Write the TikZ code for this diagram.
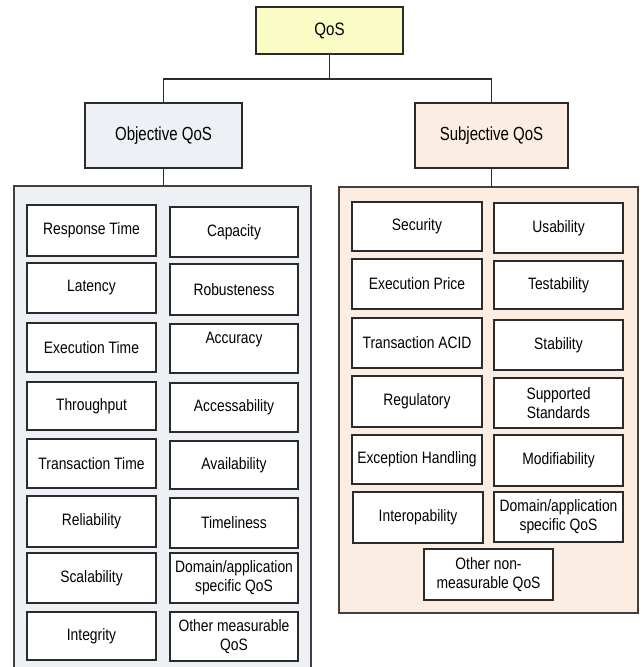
\documentclass[tikz,border=0pt]{standalone}
\usepackage{fontspec}
\setmainfont{Liberation Sans}[FakeStretch=0.84]
\newfontfamily\headfont{Liberation Sans}[FakeStretch=0.79]
\definecolor{qosyellow}{HTML}{FAFCC6}
\definecolor{objblue}{HTML}{EDF0F5}
\definecolor{subjpeach}{HTML}{FCEDE2}
\definecolor{edge}{HTML}{2B2B2B}

% a box given by its corners (x1,y1) and (x2,y2), y counted downwards
\newcommand\qbox[7][]{%
  \node[item,#1,minimum width={#5-#3},minimum height={#6-#4}]
    (#2) at ({(#3+#5)/2},{(#4+#6)/2}) {#7};}

\begin{document}
\begin{tikzpicture}[x=1pt,y=-1pt,
  item/.style={draw=edge,fill=white,line width=1.4pt,inner sep=0pt,outer sep=0pt,
    align=center,font=\fontsize{16.5}{19}\selectfont},
  head/.style={item,line width=1.3pt,font=\headfont\fontsize{19}{22}\selectfont},
  panel/.style={item,line width=1.1pt,draw=edge!90},
  link/.style={draw=edge,line width=1.3pt}]
\useasboundingbox (0,0) rectangle (643,667);
\clip (0,0) rectangle (643,667);

% top level
\qbox[head,fill=qosyellow,font=\fontsize{18}{21}\selectfont]{qos}{256}{7}{403}{54}{QoS}
\qbox[head,fill=objblue]{obj}{85}{103}{242}{168}{Objective QoS}
\qbox[head,fill=subjpeach]{subj}{415}{103}{568}{168}{Subjective QoS}

% panels holding the individual attributes
\qbox[panel,fill=objblue]{objpanel}{14}{186}{311}{680}{}
\qbox[panel,fill=subjpeach]{subjpanel}{339}{187}{638}{613}{}

\draw[link] (qos.south) -- ++(0,25) coordinate (fork)
  (obj.north) |- (fork) -| (subj.north);
\draw[link] (obj.south) -- (obj.south |- objpanel.north);
\draw[link] (subj.south) -- (subj.south |- subjpanel.north);

% objective attributes
\qbox{rt}{27}{205}{156}{256}{Response Time}
\qbox{lat}{27}{263}{156}{313}{Latency}
\qbox{et}{27}{323}{156}{372}{Execution Time}
\qbox{thr}{27}{382}{156}{430}{Throughput}
\qbox{tt}{27}{439}{156}{488}{Transaction Time}
\qbox{rel}{27}{496}{156}{547}{Reliability}
\qbox{sca}{27}{553}{156}{603}{Scalability}
\qbox{int}{27}{612}{156}{660}{Integrity}

\qbox{cap}{170}{207}{298}{257}{Capacity}
\qbox{rob}{170}{264}{298}{315}{Robusteness}
\qbox{acc}{170}{324}{298}{373}{Accuracy\\[2pt]\mbox{}}
\qbox{accs}{170}{383}{298}{432}{Accessability}
\qbox{ava}{170}{441}{298}{489}{Availability}
\qbox{tim}{170}{498}{298}{548}{Timeliness}
\qbox{odom}{170}{553}{298}{603}{Domain/application\\specific QoS}
\qbox{omeas}{170}{612}{298}{661}{Other measurable\\QoS}

% subjective attributes
\qbox{sec}{352}{202}{482}{251}{Security}
\qbox{ep}{352}{259}{482}{309}{Execution Price}
\qbox{acid}{352}{318}{482}{368}{Transaction ACID}
\qbox{reg}{352}{376}{482}{427}{Regulatory}
\qbox{exc}{352}{435}{482}{484}{Exception Handling}
\qbox{iop}{353}{492}{483}{543}{Interopability}

\qbox{usa}{494}{203}{623}{253}{Usability}
\qbox{tes}{494}{261}{623}{309}{Testability}
\qbox{sta}{494}{320}{623}{370}{Stability}
\qbox{std}{494}{378}{623}{428}{Supported\\Standards}
\qbox{mod}{494}{435}{623}{486}{Modifiability}
\qbox{sdom}{494}{492}{623}{542}{Domain/application\\specific QoS}

\qbox{onm}{424}{549}{553}{600}{Other non-\\measurable QoS}
\end{tikzpicture}
\end{document}
